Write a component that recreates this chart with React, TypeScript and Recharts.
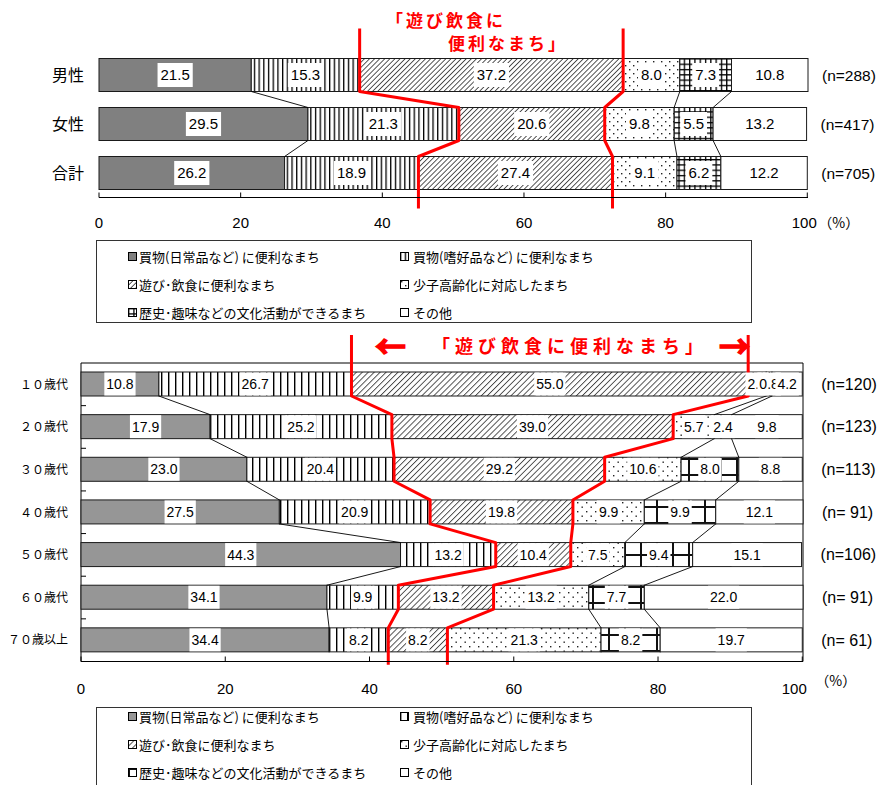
import React from 'react';
import { BarChart, Bar, XAxis, YAxis, LabelList, CartesianGrid } from 'recharts';

// ---------- data ----------
const seriesNames = [
  '買物(日常品など) に便利なまち',
  '買物(嗜好品など) に便利なまち',
  '遊び･飲食に便利なまち',
  '少子高齢化に対応したまち',
  '歴史･趣味などの文化活動ができるまち',
  'その他',
];
const seriesKeys = ['a', 'b', 'c', 'd', 'e', 'f'];

const sexCategories = ['男性', '女性', '合計'];
const sexN = ['(n=288)', '(n=417)', '(n=705)'];
const sexDaily = [21.5, 29.5, 26.2];
const sexLuxury = [15.3, 21.3, 18.9];
const sexLeisure = [37.2, 20.6, 27.4];
const sexAging = [8.0, 9.8, 9.1];
const sexCulture = [7.3, 5.5, 6.2];
const sexOther = [10.8, 13.2, 12.2];

const ageCategories = ['１０歳代', '２０歳代', '３０歳代', '４０歳代', '５０歳代', '６０歳代', '７０歳以上'];
const ageN = ['(n=120)', '(n=123)', '(n=113)', '(n= 91)', '(n=106)', '(n= 91)', '(n= 61)'];
const ageDaily = [10.8, 17.9, 23.0, 27.5, 44.3, 34.1, 34.4];
const ageLuxury = [26.7, 25.2, 20.4, 20.9, 13.2, 9.9, 8.2];
const ageLeisure = [55.0, 39.0, 29.2, 19.8, 10.4, 13.2, 8.2];
const ageAging = [2.5, 5.7, 10.6, 9.9, 7.5, 13.2, 21.3];
const ageCulture = [0.8, 2.4, 8.0, 9.9, 9.4, 7.7, 8.2];
const ageOther = [4.2, 9.8, 8.8, 12.1, 15.1, 22.0, 19.7];

const xTicks = [0, 20, 40, 60, 80, 100];
const percentLabel = '（%）';
const titleTop1 = '「遊び飲食に';
const titleTop2 = '便利なまち」';
const titleBottom = '「遊び飲食に便利なまち」';

// ---------- helpers ----------
const NUM = "'Liberation Sans', Arial, sans-serif";
const CJK = "'Noto Sans CJK JP', 'Noto Sans', sans-serif";
const RED = '#ff0000';

function buildRows(cats: string[], ns: string[], series: number[][]) {
  return cats.map((cat, i) => {
    const r: any = { cat, n: ns[i] };
    seriesKeys.forEach((k, j) => (r[k] = series[j][i]));
    return r;
  });
}

const sexRows = buildRows(sexCategories, sexN, [sexDaily, sexLuxury, sexLeisure, sexAging, sexCulture, sexOther]);
const ageRows = buildRows(ageCategories, ageN, [ageDaily, ageLuxury, ageLeisure, ageAging, ageCulture, ageOther]);

function textW(s: string, fs: number) {
  let w = 0;
  for (const ch of s) w += ch === '.' ? 0.278 : 0.556;
  return w * fs;
}

type Cfg = {
  rows: any[];
  fills: string[];
  width: number;
  height: number;
  mt: number;
  mr: number;
  yw: number;
  xh: number;
  barSize: number;
  step: number;
  extTop: number;
  extBot: number;
  valueFont: number;
  pad: number;
  nOffset: number;
  nFont: number;
  catFont: number;
  catGap: number;
  tickDy: number;
  lastShift: number;
  pctDx: number;
  pctDy: number;
  frame: boolean;
};

function Overlay({ cfg, x, y, width, height, payload }: any) {
  const rows = cfg.rows;
  const N = rows.length;
  const before = seriesKeys.slice(0, 5).reduce((s, k) => s + payload[k], 0);
  const ppu = width / payload.f;
  const x0 = x - before * ppu;
  const cum = (i: number, k: number) => seriesKeys.slice(0, k).reduce((s, kk) => s + rows[i][kk], 0);
  const bx = (i: number, k: number) => x0 + cum(i, k) * ppu;
  const yt = (i: number) => y - (N - 1 - i) * cfg.step;
  const lines: any[] = [];
  for (let k = 1; k <= 5; k++) {
    for (let i = 0; i < N - 1; i++) {
      lines.push(
        <line
          key={`s${k}-${i}`}
          x1={bx(i, k)}
          y1={yt(i) + height}
          x2={bx(i + 1, k)}
          y2={yt(i + 1)}
          stroke="#000"
          strokeWidth={0.9}
        />
      );
    }
  }
  const reds = [2, 3].map((k) => {
    const pts: string[] = [];
    pts.push(`${bx(0, k)},${yt(0) - cfg.extTop}`);
    for (let i = 0; i < N; i++) {
      pts.push(`${bx(i, k)},${yt(i)}`);
      pts.push(`${bx(i, k)},${yt(i) + height + (i === N - 1 ? cfg.extBot : 0)}`);
    }
    return (
      <polyline key={`r${k}`} points={pts.join(' ')} fill="none" stroke={RED} strokeWidth={3} strokeLinejoin="round" />
    );
  });
  return (
    <g>
      {lines}
      {reds}
    </g>
  );
}

const makeShape = (cfg: Cfg, k: number) => (p: any) => {
  const { x, y, width, height, index } = p;
  return (
    <g>
      <rect x={x} y={y} width={Math.max(width, 0)} height={height} fill={cfg.fills[k]} stroke="#1a1a1a" strokeWidth={1} />
      {k === 5 && index === cfg.rows.length - 1 ? <Overlay cfg={cfg} {...p} /> : null}
    </g>
  );
};

const makeValueLabel = (cfg: Cfg) => (p: any) => {
  const vb = p.viewBox && p.viewBox.width !== undefined ? p.viewBox : p;
  const { x, y, width, height } = vb;
  if (p.value === undefined || p.value === null) return null;
  const s = Number(p.value).toFixed(1);
  const fs = cfg.valueFont;
  const tw = textW(s, fs);
  const cx = x + width / 2;
  const cy = y + height / 2;
  const bh = Math.min(height, fs + 9);
  return (
    <g>
      <rect x={cx - tw / 2 - cfg.pad} y={cy - bh / 2} width={tw + cfg.pad * 2} height={bh} fill="#fff" />
      <text x={cx} y={cy} dy="0.36em" textAnchor="middle" fontSize={fs} fontFamily={NUM} fill="#000">
        {s}
      </text>
    </g>
  );
};

const makeNLabel = (cfg: Cfg) => (p: any) => {
  const vb = p.viewBox && p.viewBox.width !== undefined ? p.viewBox : p;
  const { x, y, width, height } = vb;
  return (
    <text x={x + width + cfg.nOffset} y={y + height / 2} dy="0.36em" fontSize={cfg.nFont} fontFamily={NUM} fill="#000" style={{ whiteSpace: 'pre' }}>
      {p.value}
    </text>
  );
};

const makeXTick = (cfg: Cfg) => (p: any) => {
  const { x, y, payload } = p;
  const isLast = payload.value === 100;
  return (
    <g>
      <line x1={x} x2={x} y1={y} y2={y - 5} stroke="#000" strokeWidth={1} />
      <text x={x + (isLast ? cfg.lastShift : 0)} y={y + cfg.tickDy} dy="0.36em" textAnchor="middle" fontSize={15} fontFamily={NUM} fill="#000">
        {payload.value}
      </text>
      {isLast ? (
        <text x={x + cfg.pctDx} y={y + cfg.tickDy + cfg.pctDy} dy="0.36em" fontSize={14} fontFamily={CJK} fill="#000">
          {percentLabel}
        </text>
      ) : null}
    </g>
  );
};

const makeYTick = (cfg: Cfg) => (p: any) => {
  const { x, y, payload, index } = p;
  const N = cfg.rows.length;
  return (
    <g>
      <text x={x - cfg.catGap} y={y} dy="0.36em" textAnchor="end" fontSize={cfg.catFont} fontFamily={CJK} fill="#000">
        {payload.value}
      </text>
      {cfg.frame && index < N - 1 ? (
        <line x1={x} x2={x + 5} y1={y + cfg.step / 2} y2={y + cfg.step / 2} stroke="#000" strokeWidth={1} />
      ) : null}
    </g>
  );
};

function StackChart({ cfg }: { cfg: Cfg }) {
  return (
    <BarChart
      width={cfg.width}
      height={cfg.height}
      data={cfg.rows}
      layout="vertical"
      margin={{ top: cfg.mt, right: cfg.mr, bottom: 0, left: 0 }}
      barCategoryGap={0}
    >
      {cfg.frame ? (
        <CartesianGrid
          stroke="#000"
          strokeWidth={1}
          horizontalCoordinatesGenerator={(g: any) => (g && g.offset ? [g.offset.top, g.offset.top + g.offset.height] : [])}
          verticalCoordinatesGenerator={(g: any) => (g && g.offset ? [g.offset.left, g.offset.left + g.offset.width] : [])}
        />
      ) : null}
      <XAxis
        type="number"
        domain={[0, 100]}
        ticks={xTicks}
        height={cfg.xh}
        tickSize={0}
        tickMargin={0}
        tickLine={false}
        axisLine={{ stroke: '#000', strokeWidth: 1 }}
        tick={makeXTick(cfg)}
        interval={0}
      />
      <YAxis
        type="category"
        dataKey="cat"
        width={cfg.yw}
        tickSize={0}
        tickMargin={0}
        tickLine={false}
        axisLine={false}
        tick={makeYTick(cfg)}
        interval={0}
      />
      {seriesKeys.map((k, j) => (
        <Bar key={k} dataKey={k} stackId="s" barSize={cfg.barSize} isAnimationActive={false} shape={makeShape(cfg, j)}>
          <LabelList dataKey={k} content={makeValueLabel(cfg)} />
          {j === 5 ? <LabelList dataKey="n" content={makeNLabel(cfg)} /> : null}
        </Bar>
      ))}
    </BarChart>
  );
}

const topH = 240, topMt = 50.5, topXh = 42.5;
const topCfg: Cfg = {
  rows: sexRows,
  fills: ['#808080', 'url(#tB)', 'url(#tC)', 'url(#tD)', 'url(#tE)', '#ffffff'],
  width: 881,
  height: topH,
  mt: topMt,
  mr: 73,
  yw: 99,
  xh: topXh,
  barSize: 33,
  step: (topH - topMt - topXh) / sexRows.length,
  extTop: 30,
  extBot: 19,
  valueFont: 15,
  pad: 3,
  nOffset: 14,
  nFont: 15.5,
  catFont: 16,
  catGap: 15,
  tickDy: 25,
  lastShift: -3,
  pctDx: 11,
  pctDy: 0,
  frame: false,
};

const botH = 380, botMt = 33, botXh = 48.5;
const botCfg: Cfg = {
  rows: ageRows,
  fills: ['#969696', 'url(#bB)', 'url(#bC)', 'url(#bD)', 'url(#bE)', '#ffffff'],
  width: 881,
  height: botH,
  mt: botMt,
  mr: 78,
  yw: 81,
  xh: botXh,
  barSize: 24,
  step: (botH - botMt - botXh) / ageRows.length,
  extTop: 37,
  extBot: 13,
  valueFont: 14,
  pad: 2,
  nOffset: 19,
  nFont: 16,
  catFont: 12,
  catGap: 13,
  tickDy: 27,
  lastShift: -8,
  pctDx: 13,
  pctDy: -8,
  frame: true,
};

function Patterns() {
  return (
    <svg width="0" height="0" style={{ position: 'absolute', left: 0, top: 0 }}>
      <defs>
        <pattern id="tB" patternUnits="userSpaceOnUse" width="4.7" height="10">
          <rect width="4.7" height="10" fill="#fff" />
          <rect x="0" y="0" width="1.3" height="10" fill="#000" />
        </pattern>
        <pattern id="bB" patternUnits="userSpaceOnUse" width="7" height="10">
          <rect width="7" height="10" fill="#fff" />
          <rect x="0" y="0" width="1.4" height="10" fill="#000" />
        </pattern>
        <pattern id="tC" patternUnits="userSpaceOnUse" width="3.6" height="3.6" patternTransform="rotate(45)">
          <rect width="3.6" height="3.6" fill="#fff" />
          <rect x="0" y="0" width="0.9" height="3.6" fill="#444" />
        </pattern>
        <pattern id="bC" patternUnits="userSpaceOnUse" width="4.2" height="4.2" patternTransform="rotate(45)">
          <rect width="4.2" height="4.2" fill="#fff" />
          <rect x="0" y="0" width="0.9" height="4.2" fill="#444" />
        </pattern>
        <pattern id="tD" patternUnits="userSpaceOnUse" width="8" height="8">
          <rect width="8" height="8" fill="#fff" />
          <rect x="1" y="1" width="1.4" height="1.4" fill="#222" />
          <rect x="5" y="5" width="1.4" height="1.4" fill="#222" />
        </pattern>
        <pattern id="bD" patternUnits="userSpaceOnUse" width="9" height="9">
          <rect width="9" height="9" fill="#fff" />
          <rect x="1" y="1" width="1.4" height="1.4" fill="#222" />
          <rect x="5.5" y="5.5" width="1.4" height="1.4" fill="#222" />
        </pattern>
        <pattern id="tE" patternUnits="userSpaceOnUse" width="5.3" height="5.3">
          <rect width="5.3" height="5.3" fill="#fff" />
          <rect x="0" y="0" width="1.3" height="5.3" fill="#000" />
          <rect x="0" y="0" width="5.3" height="1.3" fill="#000" />
        </pattern>
        <pattern id="bE" patternUnits="userSpaceOnUse" width="16" height="16">
          <rect width="16" height="16" fill="#fff" />
          <rect x="0" y="0" width="2" height="16" fill="#111" />
          <rect x="0" y="0" width="16" height="2" fill="#111" />
        </pattern>
      </defs>
    </svg>
  );
}

function LegendBox({ top, height, fills, rowsY }: { top: number; height: number; fills: string[]; rowsY: number[] }) {
  const cols = [
    { icon: 128, text: 139 },
    { icon: 400, text: 413 },
  ];
  return (
    <>
      <div
        style={{
          position: 'absolute',
          left: 96,
          top,
          width: 656,
          height,
          border: '1px solid #333',
          boxSizing: 'border-box',
        }}
      />
      {seriesNames.map((name, i) => {
        const col = cols[i % 2];
        const cy = rowsY[Math.floor(i / 2)];
        return (
          <React.Fragment key={name}>
            <svg width="10" height="10" style={{ position: 'absolute', left: col.icon, top: cy - 5 }}>
              <rect x="0.5" y="0.5" width="8" height="8" fill={fills[i]} stroke="#000" strokeWidth={1} />
            </svg>
            <div
              style={{
                position: 'absolute',
                left: col.text,
                top: cy - 10,
                height: 20,
                lineHeight: '20px',
                fontSize: 13,
                fontFamily: CJK,
                color: '#000',
                whiteSpace: 'nowrap',
              }}
            >
              {name}
            </div>
          </React.Fragment>
        );
      })}
    </>
  );
}

const redText: React.CSSProperties = {
  position: 'absolute',
  color: RED,
  fontFamily: CJK,
  fontWeight: 700,
  whiteSpace: 'nowrap',
};

export default function App() {
  return (
    <div style={{ position: 'absolute', left: 0, top: 0, width: 881, height: 785, background: '#fff', overflow: 'hidden' }}>
      <Patterns />
      <div style={{ position: 'absolute', left: 0, top: 0 }}>
        <StackChart cfg={topCfg} />
      </div>
      <div style={{ position: 'absolute', left: 0, top: 330 }}>
        <StackChart cfg={botCfg} />
      </div>
      <LegendBox top={240} height={83} fills={topCfg.fills} rowsY={[257, 285, 313]} />
      <LegendBox top={707} height={100} fills={botCfg.fills} rowsY={[717, 745, 773]} />
      <div style={{ ...redText, left: 386, top: 7, fontSize: 17, letterSpacing: 3, lineHeight: '26px' }}>{titleTop1}</div>
      <div style={{ ...redText, left: 448, top: 30, fontSize: 17, letterSpacing: 3, lineHeight: '26px' }}>{titleTop2}</div>
      <div style={{ ...redText, left: 432, top: 331, fontSize: 18, letterSpacing: 5, lineHeight: '28px' }}>{titleBottom}</div>
      <div style={{ ...redText, left: 375, top: 328, fontSize: 31, lineHeight: '34px', WebkitTextStroke: '1.4px #ff0000' }}>←</div>
      <div style={{ ...redText, left: 719, top: 328, fontSize: 31, lineHeight: '34px', WebkitTextStroke: '1.4px #ff0000' }}>→</div>
    </div>
  );
}
